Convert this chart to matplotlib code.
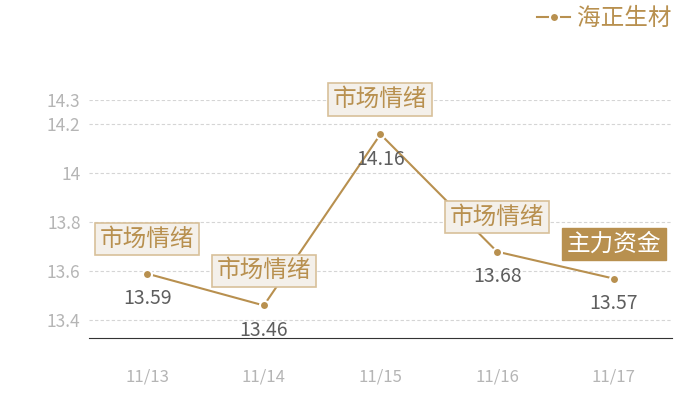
import numpy as np
import matplotlib
matplotlib.use("Agg")
import matplotlib.pyplot as plt

plt.rcParams['font.family'] = ['Noto Sans CJK SC', 'DejaVu Sans']

dates = ['11/13', '11/14', '11/15', '11/16', '11/17']
prices = [13.59, 13.46, 14.16, 13.68, 13.57]
tags = ['市场情绪', '市场情绪', '市场情绪', '市场情绪', '主力资金']
yticks = [13.4, 13.6, 13.8, 14, 14.2, 14.3]
ytick_labels = ['13.4', '13.6', '13.8', '14', '14.2', '14.3']
series_name = '海正生材'

gold = '#b8904f'

fig = plt.figure(figsize=(7, 4), dpi=100)
ax = fig.add_axes([0.127, 0.155, 0.833, 0.595])

x = np.arange(len(dates))
ax.plot(x, prices, color=gold, lw=1.5, marker='o', ms=6.5,
        markeredgecolor='white', markeredgewidth=1.5, label=series_name,
        zorder=3)

ax.set_xlim(-0.5, len(dates) - 0.5)
ax.set_ylim(13.327, 14.3)
ax.set_xticks(x)
ax.set_xticklabels(dates, color='#b5b5b5', fontsize=12)
ax.set_yticks(yticks)
ax.set_yticklabels(ytick_labels, color='#b5b5b5', fontsize=12.5)
ax.tick_params(length=0)
ax.tick_params(axis='x', pad=22)
ax.tick_params(axis='y', pad=6)
ax.grid(axis='y', color='#d5d5d5', linestyle=(0, (3, 2)), lw=0.8)
for s in ['top', 'right', 'left']:
    ax.spines[s].set_visible(False)
ax.spines['bottom'].set_color('#333333')

for i, (v, t) in enumerate(zip(prices, tags)):
    ax.annotate(f'{v:.2f}', (i, v), xytext=(0, -18), textcoords='offset points',
                ha='center', va='center', fontsize=14, color='#5e5e5e')
    if t == '主力资金':
        box = dict(boxstyle='square,pad=0.2', fc=gold, ec=gold)
        tc = 'white'
    else:
        box = dict(boxstyle='square,pad=0.2', fc='#f4f0ea', ec='#d8c09a', lw=1.2)
        tc = gold
    ax.annotate(t, (i, v), xytext=(0, 25), textcoords='offset points',
                ha='center', va='center', fontsize=17, color=tc, bbox=box,
                zorder=4)

leg = fig.legend(loc='upper right', bbox_to_anchor=(0.99, 1.035), frameon=False,
                 fontsize=17, handlelength=1.4, handletextpad=0.3)
for txt in leg.get_texts():
    txt.set_color(gold)

fig.savefig('out.png', dpi=100)
